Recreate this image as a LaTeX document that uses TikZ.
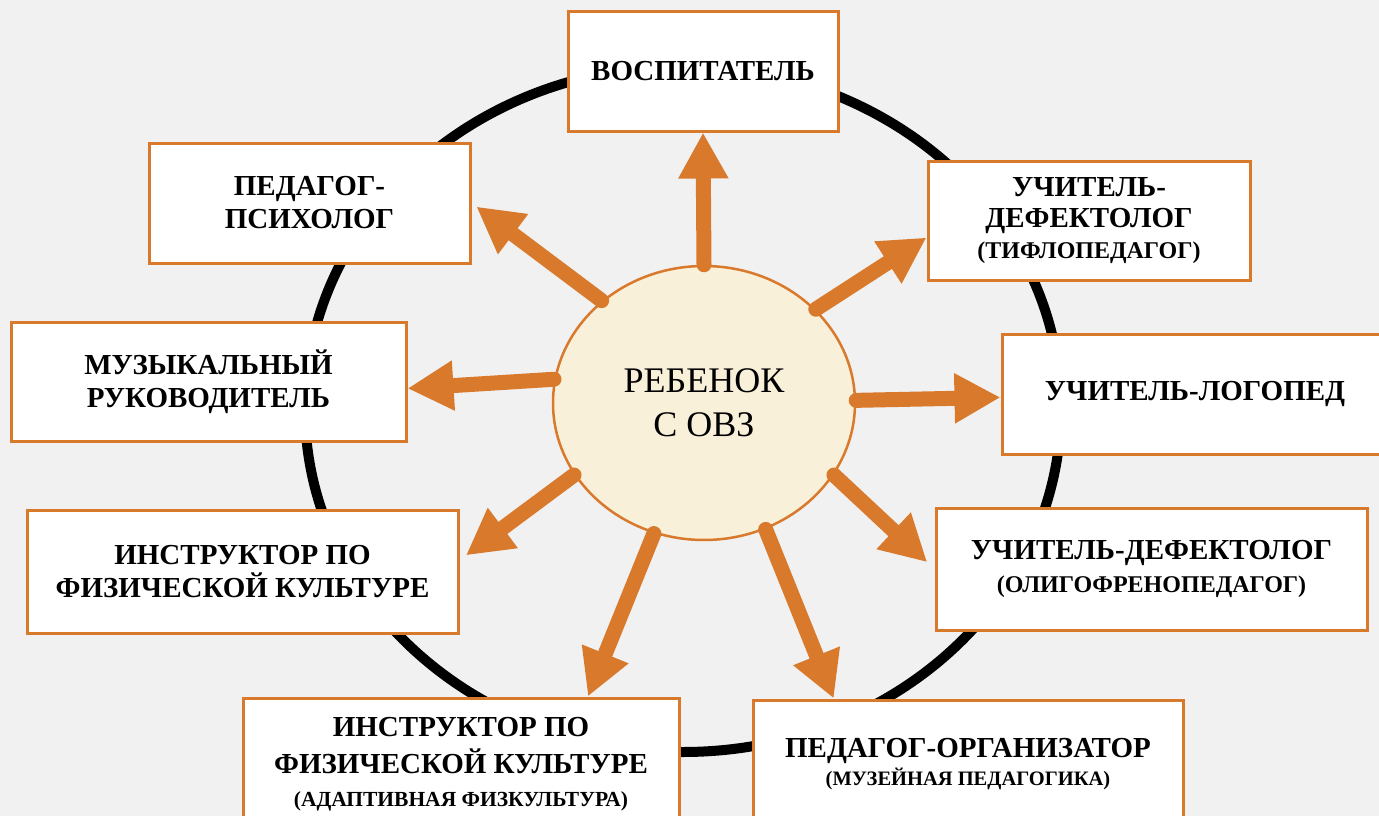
\documentclass[tikz,border=0pt]{standalone}
\usepackage{fontspec}
\setmainfont{Liberation Serif}
\usetikzlibrary{arrows.meta,shapes.geometric}
\definecolor{ovzorange}{RGB}{217,121,44}
\definecolor{ovzcream}{RGB}{249,240,218}
\definecolor{ovzback}{RGB}{241,241,241}
\newcommand{\bigsub}[1]{{\fontsize{24}{31}\selectfont #1}}
\newcommand{\smallsub}[1]{{\fontsize{21.5}{30}\selectfont #1}}
\tikzset{
  role/.style={draw=ovzorange,line width=3pt,fill=white,inner sep=0pt,align=center,
    font=\bfseries\fontsize{29}{33}\selectfont},
  link/.style={draw=ovzorange,line width=15pt,line cap=round,-{Triangle[width=47pt,length=46pt]}}
}
\begin{document}
\begin{tikzpicture}[x=1pt,y=-1pt]
  \useasboundingbox (0,0) rectangle (1379,816);
  \clip (0,0) rectangle (1379,816);
  \fill[ovzback] (0,0) rectangle (1379,816);
  \draw[line width=10pt] (683,409) ellipse [x radius=378pt,y radius=343pt];

  \node [role,minimum width=270pt,minimum height=119pt] (V) at (703,71.5) {ВОСПИТАТЕЛЬ};
  \node [role,minimum width=321pt,minimum height=120pt] (P) at (309.5,203) {ПЕДАГОГ-\\ПСИХОЛОГ};
  \node [role,minimum width=322pt,minimum height=119pt,font=\bfseries\fontsize{29}{31}\selectfont] (UD) at (1089,220.5) {УЧИТЕЛЬ-\\ДЕФЕКТОЛОГ\\\bigsub{(ТИФЛОПЕДАГОГ)}};
  \node [role,minimum width=395pt,minimum height=119pt] (MR) at (208.5,381.5) {МУЗЫКАЛЬНЫЙ\\РУКОВОДИТЕЛЬ};
  \node [role,minimum width=386pt,minimum height=120pt] (UL) at (1195,394) {УЧИТЕЛЬ-ЛОГОПЕД};
  \node [role,minimum width=431pt,minimum height=123pt] (IF) at (242.5,571.5) {ИНСТРУКТОР ПО\\ФИЗИЧЕСКОЙ КУЛЬТУРЕ};
  \node [role,minimum width=431pt,minimum height=122pt] (UO) at (1151.5,569) {УЧИТЕЛЬ-ДЕФЕКТОЛОГ\\\bigsub{(ОЛИГОФРЕНОПЕДАГОГ)}};
  \node [role,minimum width=436pt,minimum height=132pt] (IA) at (461,764) {ИНСТРУКТОР ПО\\[4pt]ФИЗИЧЕСКОЙ КУЛЬТУРЕ\\\smallsub{(АДАПТИВНАЯ ФИЗКУЛЬТУРА)}};
  \node [role,minimum width=430pt,minimum height=128pt] (PO) at (968,764) {ПЕДАГОГ-ОРГАНИЗАТОР\\[-5pt]{\fontsize{20.5}{30}\selectfont(МУЗЕЙНАЯ ПЕДАГОГИКА)}};

  \node [ellipse,draw=ovzorange,line width=2.5pt,fill=ovzcream,inner sep=0pt,
    minimum width=302pt,minimum height=274pt,align=center,
    font=\fontsize{36}{44}\selectfont] (Ch) at (704,403) {РЕБЕНОК\\С ОВЗ};

  \draw [link] (Ch.90) -- (V.south);
  \draw [link,shorten >=6pt] (Ch.135) -- (P.east);
  \draw [link] (Ch.40.5) -- (UD.186);
  \draw [link] (Ch.171) -- (MR.-2);
  \draw [link] (Ch.1) -- (UL.181);
  \draw [link,shorten >=8pt] (Ch.209) -- (IF.3);
  \draw [link,shorten >=10pt] (Ch.331) -- (UO.180);
  \draw [link] (Ch.249) -- (IA.28.5);
  \draw [link] (Ch.296) -- (PO.154.8);
\end{tikzpicture}
\end{document}
